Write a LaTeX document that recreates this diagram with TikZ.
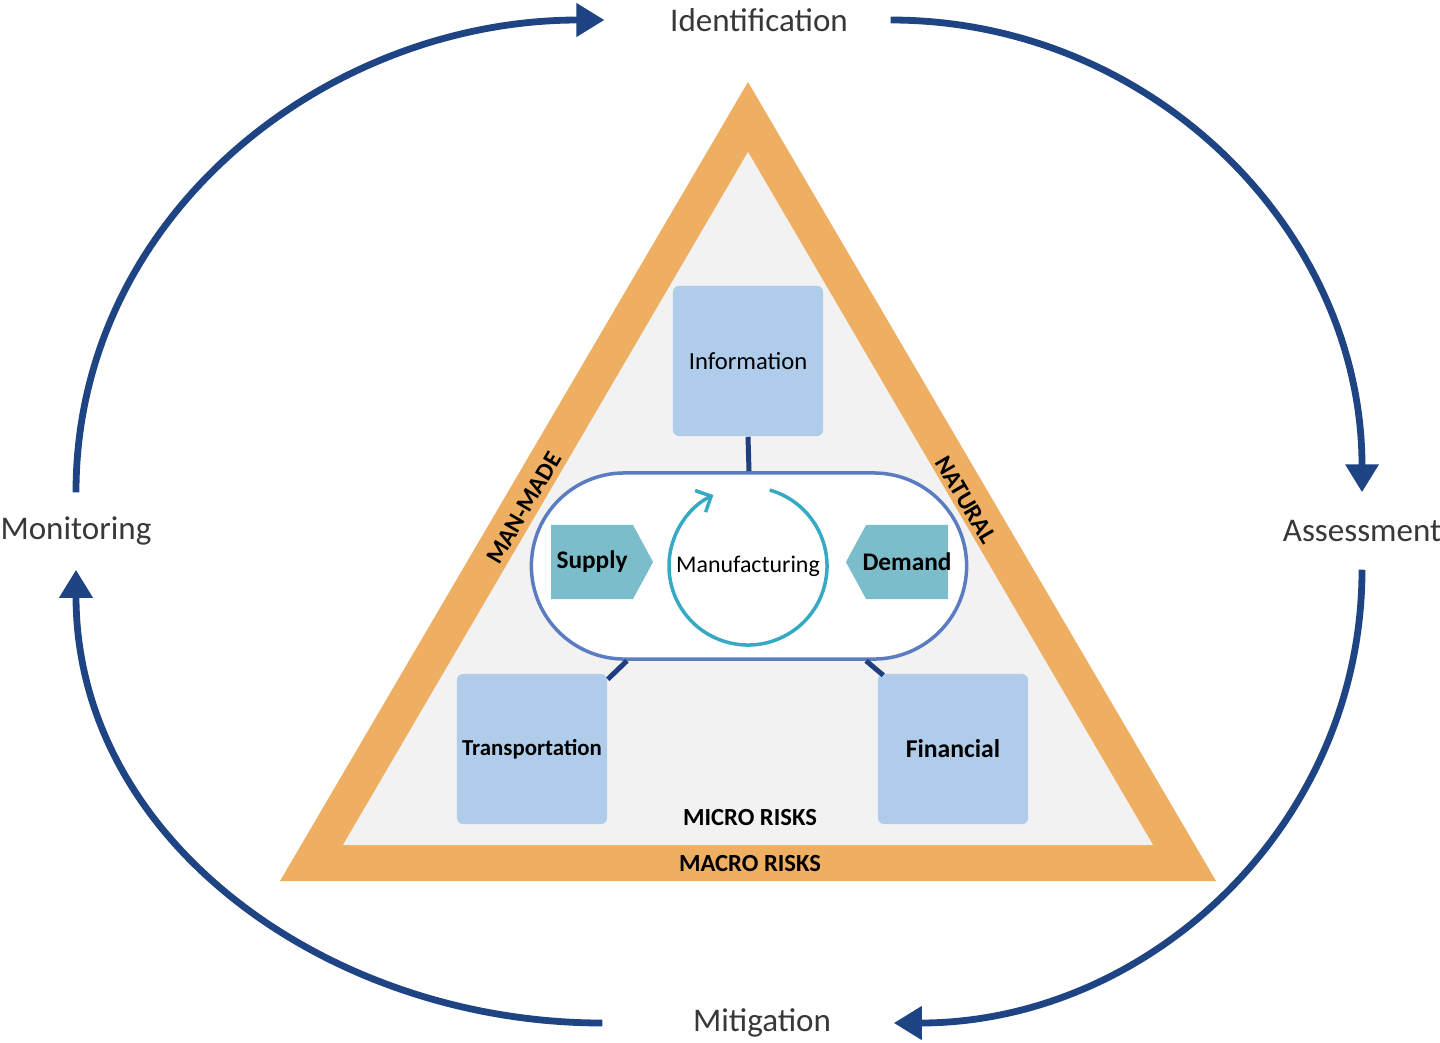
\documentclass[tikz,border=0pt]{standalone}
\usepackage{fontspec}
\setmainfont{Carlito}
\usepackage{tikz}
\usetikzlibrary{arrows.meta,positioning,shapes.misc,shapes.symbols}

\definecolor{navy}{HTML}{1E4483}
\definecolor{ink}{HTML}{383838}
\definecolor{sand}{HTML}{EEAF63}
\definecolor{haze}{HTML}{F2F2F2}
\definecolor{sky}{HTML}{AFCDEB}
\definecolor{rim}{HTML}{5B7CC1}
\definecolor{cyan2}{HTML}{7CBDCC}
\definecolor{spin}{HTML}{36A9C5}
\definecolor{wire}{HTML}{1F3F7F}

\tikzstyle{lb} = [text=ink, font=\fontsize{9.4}{11}\selectfont, minimum height=0.76cm, inner sep=0pt]
\tikzstyle{cy} = [draw=navy, line width=0.068cm, -{Triangle[length=0.28cm, width=0.32cm]}, looseness=1]
\tikzstyle{bx} = [rectangle, rounded corners=0.06cm, fill=sky, minimum size=1.5cm, inner sep=0pt, font=\fontsize{7}{8}\selectfont]
\tikzstyle{sg} = [signal, fill=cyan2, minimum width=1.02cm, minimum height=0.74cm, inner xsep=-0.3cm, inner ysep=0pt, signal pointer angle=123, font=\bfseries\fontsize{7.2}{8}\selectfont]
\tikzstyle{ln} = [draw=wire, line width=0.05cm]
\tikzstyle{rk} = [font=\bfseries\fontsize{7}{8}\selectfont]

\begin{document}
\begin{tikzpicture}[x=0.01cm, y=-0.01cm]
	\useasboundingbox (0,0) rectangle (1440,1042);

	% risk bands
	\fill[sand] (748,82) -- (1216,881) -- (280,881) -- cycle;
	\fill[haze] (748,152) -- (1153,845) -- (343,845) -- cycle;
	\node[rk, rotate=59.6] (MM) at (524,508) {MAN-MADE};
	\node[rk, rotate=-59.6] (NA) at (966,500) {NATURAL};
	\node[rk] (MIC) at (750,817) {MICRO RISKS};
	\node[rk] (MAC) at (750,863) {MACRO RISKS};

	% risk areas
	\node[bx] (INFO) at (748,361) {Information};
	\node[bx, font=\bfseries\fontsize{6.5}{8}\selectfont] (TR) at (532,749) {Transportation};
	\node[bx, font=\bfseries\fontsize{7.3}{8}\selectfont] (FIN) at (953,749) {Financial};

	\node[rectangle, rounded corners=0.93cm, draw=rim, line width=0.035cm, fill=white, minimum width=4.35cm, minimum height=1.86cm] (CORE) at (749,566) {};
	\node[sg, signal to=east] (SUP) at (592,562) {Supply};
	\node[sg, signal to=west] (DEM) at (907,562) {Demand};
	\node[font=\fontsize{6.8}{8}\selectfont] (MF) at (748,566) {Manufacturing};
	\draw[spin, line width=0.035cm, -{Straight Barb[length=0.12cm, width=0.24cm]}] ([shift={(-74:79)}]MF.center) arc[start angle=-74, end angle=244, radius=79];

	\draw[ln] (INFO.south) -- (CORE.north);
	\draw[ln] ([yshift=-0.06cm]TR.north east) -- ([xshift=-1.22cm]CORE.south);
	\draw[ln] ([xshift=1.17cm]CORE.south) -- ([xshift=0.06cm,yshift=-0.02cm]FIN.north west);

	% risk management cycle
	\begin{scope}[every node/.style={lb}]
		\node (ID) at (759,20) {Identification};
		\node (AS) at (1362,531) {Assessment};
		\node (MI) at (762,1023) {Mitigation};
		\node (MO) at (76,531) {Monitoring};
	\end{scope}

	\path (MO.north) edge[cy, out=90, in=180] ([xshift=-0.65cm]ID.west);
	\path ([xshift=0.42cm]ID.east) edge[cy, out=0, in=90] (AS.north);
	\path (AS.south) edge[cy, out=-90, in=0] ([xshift=0.62cm]MI.east);
	\path ([xshift=-0.9cm]MI.west) edge[cy, out=180, in=-90] (MO.south);
\end{tikzpicture}
\end{document}
